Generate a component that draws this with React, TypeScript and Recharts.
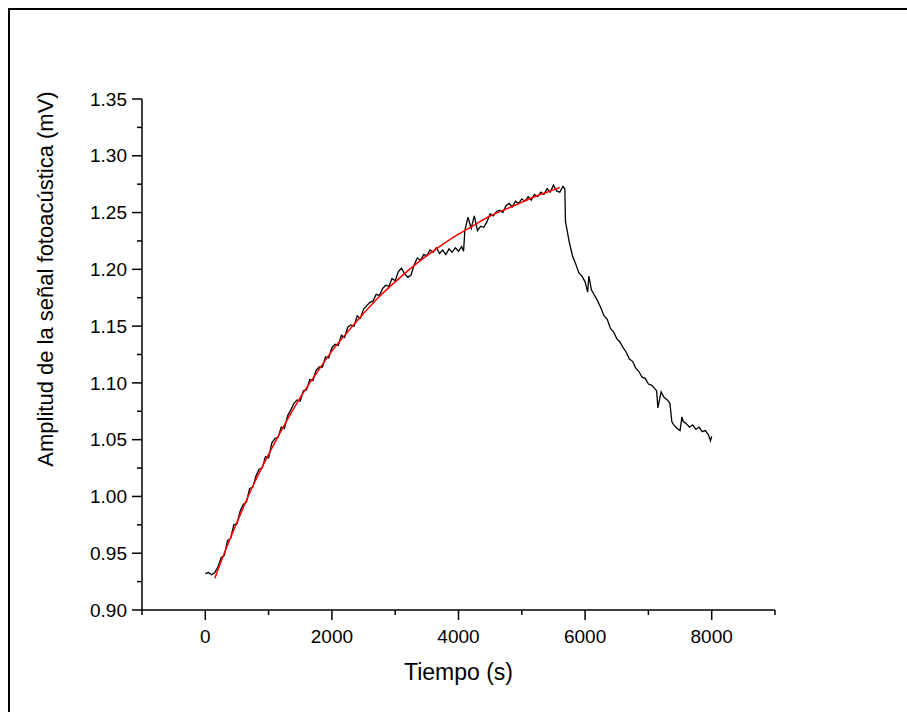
import React from 'react';
import { LineChart, Line, XAxis, YAxis, Label } from 'recharts';

// Measured photoacoustic signal: [time (s), amplitude (mV)]
const signalPoints: [number, number][] = [
  [0, 0.932], [50, 0.933], [100, 0.931], [150, 0.933], [200, 0.938], [250, 0.946], [300, 0.948],
  [350, 0.961], [400, 0.963], [450, 0.975], [500, 0.976], [550, 0.987], [600, 0.993], [650, 0.995],
  [700, 1.007], [750, 1.008], [800, 1.018], [850, 1.024], [900, 1.025], [950, 1.035], [1000, 1.034],
  [1050, 1.047], [1100, 1.051], [1150, 1.052], [1200, 1.061], [1250, 1.060], [1300, 1.071], [1350, 1.076],
  [1400, 1.082], [1450, 1.085], [1500, 1.084], [1550, 1.093], [1600, 1.094], [1650, 1.103], [1700, 1.102],
  [1750, 1.111], [1800, 1.114], [1850, 1.114], [1900, 1.123], [1950, 1.122], [2000, 1.131], [2050, 1.134],
  [2100, 1.133], [2150, 1.142], [2200, 1.140], [2250, 1.149], [2300, 1.151], [2350, 1.150], [2400, 1.159],
  [2450, 1.157], [2500, 1.165], [2550, 1.168], [2600, 1.171], [2650, 1.172], [2700, 1.178], [2750, 1.177],
  [2800, 1.183], [2850, 1.186], [2900, 1.185], [2950, 1.192], [3000, 1.190], [3050, 1.198], [3100, 1.201],
  [3150, 1.196], [3200, 1.193], [3250, 1.195], [3300, 1.204], [3350, 1.210], [3400, 1.208], [3450, 1.213],
  [3500, 1.212], [3550, 1.217], [3600, 1.215], [3650, 1.219], [3700, 1.214], [3750, 1.217], [3800, 1.213],
  [3850, 1.218], [3900, 1.215], [3950, 1.219], [4000, 1.216], [4050, 1.220], [4080, 1.216], [4100, 1.234],
  [4150, 1.246], [4200, 1.236], [4250, 1.247], [4300, 1.234], [4350, 1.238], [4400, 1.237], [4450, 1.242],
  [4500, 1.249], [4550, 1.247], [4600, 1.251], [4650, 1.252], [4700, 1.250], [4750, 1.256], [4800, 1.258],
  [4850, 1.255], [4900, 1.260], [4950, 1.258], [5000, 1.262], [5050, 1.260], [5100, 1.264], [5150, 1.261],
  [5200, 1.266], [5250, 1.264], [5300, 1.268], [5350, 1.266], [5400, 1.271], [5450, 1.268], [5500, 1.274],
  [5550, 1.269], [5600, 1.268], [5650, 1.273], [5680, 1.271], [5690, 1.242], [5750, 1.224], [5800, 1.212],
  [5850, 1.205], [5900, 1.197], [5950, 1.194], [6000, 1.189], [6040, 1.180], [6060, 1.194], [6100, 1.182],
  [6150, 1.177], [6200, 1.172], [6250, 1.166], [6300, 1.159], [6350, 1.156], [6400, 1.148], [6450, 1.145],
  [6500, 1.139], [6550, 1.136], [6600, 1.131], [6650, 1.127], [6700, 1.121], [6750, 1.119], [6800, 1.113],
  [6850, 1.110], [6900, 1.105], [6950, 1.104], [7000, 1.099], [7050, 1.098], [7100, 1.095], [7130, 1.093],
  [7150, 1.078], [7200, 1.092], [7250, 1.087], [7300, 1.085], [7340, 1.082], [7370, 1.066], [7400, 1.063],
  [7450, 1.060], [7500, 1.058], [7530, 1.070], [7550, 1.066], [7600, 1.064], [7650, 1.061], [7700, 1.063],
  [7750, 1.059], [7800, 1.061], [7850, 1.057], [7900, 1.058], [7950, 1.054], [7980, 1.049], [8000, 1.053],
];

// Fitted curve (red): [time (s), amplitude (mV)]
const fitPoints: [number, number][] = [
  [150, 0.928], [300, 0.950], [500, 0.977], [750, 1.009], [1000, 1.037], [1250, 1.063], [1500, 1.087],
  [1750, 1.108], [2000, 1.128], [2250, 1.145], [2500, 1.161], [2750, 1.176], [3000, 1.189], [3250, 1.201],
  [3500, 1.212], [3750, 1.222], [4000, 1.231], [4250, 1.239], [4500, 1.247], [4750, 1.253], [5000, 1.259],
  [5250, 1.265], [5500, 1.270], [5600, 1.272],
];

const xTicks = [-1000, 0, 1000, 2000, 3000, 4000, 5000, 6000, 7000, 8000, 9000];
const xLabelTicks = [0, 2000, 4000, 6000, 8000];
const yTicks = [0.9, 0.925, 0.95, 0.975, 1.0, 1.025, 1.05, 1.075, 1.1, 1.125, 1.15, 1.175, 1.2, 1.225, 1.25, 1.275, 1.3, 1.325, 1.35];
const yLabelTicks = [0.9, 0.95, 1.0, 1.05, 1.1, 1.15, 1.2, 1.25, 1.3, 1.35];

const xTitle = 'Tiempo (s)';
const yTitle = 'Amplitud de la señal fotoacústica (mV)';

const signalData = signalPoints.map(([t, v]) => ({ t, v }));
const fitData = fitPoints.map(([t, v]) => ({ t, v }));

const FONT = '"Liberation Sans", Arial, Helvetica, sans-serif';

function XTick(props: any) {
  const { x, y, payload } = props;
  const v = payload.value;
  const major = xLabelTicks.includes(v);
  return (
    <g>
      <line x1={x} x2={x} y1={y} y2={y + (major ? 10 : 5)} stroke="#000" strokeWidth={1.5} />
      {major && (
        <text x={x} y={y + 33} textAnchor="middle" fontSize={19} fontFamily={FONT} fill="#000">
          {v}
        </text>
      )}
    </g>
  );
}

function YTick(props: any) {
  const { x, y, payload } = props;
  const v = payload.value;
  const major = yLabelTicks.some((m) => Math.abs(m - v) < 1e-6);
  return (
    <g>
      <line x1={x - (major ? 10 : 5)} x2={x} y1={y} y2={y} stroke="#000" strokeWidth={1.5} />
      {major && (
        <text x={x - 15} y={y} dy="0.35em" textAnchor="end" fontSize={19} fontFamily={FONT} fill="#000">
          {v.toFixed(2)}
        </text>
      )}
    </g>
  );
}

function XTitle(props: any) {
  const vb = props.viewBox || { x: 142, y: 610, width: 633, height: 102 };
  return (
    <text x={vb.x + vb.width / 2} y={vb.y + 70} textAnchor="middle" fontSize={23} fontFamily={FONT} fill="#000">
      {xTitle}
    </text>
  );
}

function YTitle(props: any) {
  const vb = props.viewBox || { x: 0, y: 99, width: 142, height: 511 };
  const cx = vb.x + 45;
  const cy = vb.y + 180;
  return (
    <text
      x={cx}
      y={cy}
      dy="0.35em"
      textAnchor="middle"
      transform={`rotate(-90, ${cx}, ${cy})`}
      fontSize={22}
      fontFamily={FONT}
      fill="#000"
    >
      {yTitle}
    </text>
  );
}

export default function App() {
  return (
    <div style={{ position: 'fixed', left: 0, top: 0, width: 907, height: 712, overflow: 'hidden', background: '#fff' }}>
      <div
        style={{
          position: 'absolute',
          left: 8,
          top: 8,
          width: 940,
          height: 740,
          borderLeft: '2px solid #000',
          borderTop: '2px solid #000',
        }}
      />
      <div style={{ position: 'absolute', left: 0, top: 0 }}>
        <LineChart width={907} height={712} margin={{ top: 99, right: 132, bottom: 0, left: 0 }}>
          <XAxis
            dataKey="t"
            type="number"
            domain={[-1000, 9000]}
            ticks={xTicks}
            interval={0}
            tickSize={0}
            tickMargin={0}
            tickLine={false}
            tick={<XTick />}
            axisLine={{ stroke: '#000', strokeWidth: 1.5 }}
            height={102}
            allowDataOverflow
          >
            <Label content={<XTitle />} />
          </XAxis>
          <YAxis
            dataKey="v"
            type="number"
            domain={[0.9, 1.35]}
            ticks={yTicks}
            interval={0}
            tickSize={0}
            tickMargin={0}
            tickLine={false}
            tick={<YTick />}
            axisLine={{ stroke: '#000', strokeWidth: 1.5 }}
            width={142}
            allowDataOverflow
          >
            <Label content={<YTitle />} />
          </YAxis>
          <Line
            data={signalData}
            dataKey="v"
            type="linear"
            stroke="#000"
            strokeWidth={1.3}
            dot={false}
            activeDot={false}
            isAnimationActive={false}
          />
          <Line
            data={fitData}
            dataKey="v"
            type="monotone"
            stroke="#ff0000"
            strokeWidth={1.5}
            dot={false}
            activeDot={false}
            isAnimationActive={false}
          />
        </LineChart>
      </div>
    </div>
  );
}
